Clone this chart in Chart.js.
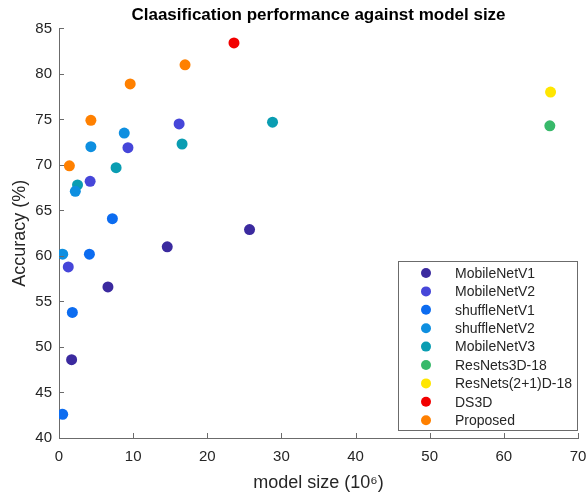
<!DOCTYPE html>
<html>
<head>
<meta charset="utf-8">
<script src="https://cdn.jsdelivr.net/npm/chart.js@4.4.0/dist/chart.umd.min.js"></script>
<style>
  html, body { margin: 0; padding: 0; background: #fff; }
  #wrap { width: 588px; height: 494px; }
</style>
</head>
<body>
<div id="wrap"><canvas id="sizeChart" width="588" height="494"></canvas></div>
<script>
// model families, in legend order
const models = [
    "MobileNetV1",
    "MobileNetV2",
    "shuffleNetV1",
    "shuffleNetV2",
    "MobileNetV3",
    "ResNets3D-18",
    "ResNets(2+1)D-18",
    "DS3D",
    "Proposed"
]

const colors = [
    "#3b2a9f",
    "#4646d9",
    "#0c6cf0",
    "#0e8fe0",
    "#0a9db2",
    "#38b96a",
    "#ffe600",
    "#f20000",
    "#ff8000"
]

// model size (millions of params) per family
const sizes = [
    [1.7, 6.6, 14.6, 25.7],
    [1.25, 4.2, 9.3, 16.2],
    [0.5, 1.8, 4.1, 7.2],
    [0.5, 2.2, 4.3, 8.8],
    [2.5, 7.7, 16.6, 28.8],
    [66.2],
    [66.3],
    [23.6],
    [1.4, 4.3, 9.6, 17.0]
]

// accuracy (%) per family
const accuracy = [
    [48.6, 56.6, 61.0, 62.9],
    [58.8, 68.2, 71.9, 74.5],
    [42.6, 53.8, 60.2, 64.1],
    [60.2, 67.1, 72.0, 73.5],
    [67.8, 69.7, 72.3, 74.7],
    [74.3],
    [78.0],
    [83.4],
    [69.9, 74.9, 78.9, 81.0]
]

const xTicks = [0, 10, 20, 30, 40, 50, 60, 70]
const yTicks = [40, 45, 50, 55, 60, 65, 70, 75, 80, 85]

const axisColor = "#6b6b6b"
const textColor = "#262626"
const fontFamily = "'Liberation Sans', Arial, sans-serif"

const datasets = models.map((name, i) => ({
    label: name,
    data: sizes[i].map((x, j) => ({ x: x, y: accuracy[i][j] })),
    backgroundColor: colors[i],
    borderWidth: 0,
    pointRadius: 5.5,
    pointHoverRadius: 5.5
}))

// ticks pointing into the plot, like matlab
const innerTicks = {
    id: "innerTicks",
    afterDraw(chart) {
        const c = chart.ctx
        const xs = chart.scales.x
        const ys = chart.scales.y
        const area = chart.chartArea
        c.save()
        c.strokeStyle = axisColor
        c.lineWidth = 1
        c.beginPath()
        xTicks.forEach(v => {
            const px = Math.round(xs.getPixelForValue(v)) + 0.5
            c.moveTo(px, area.bottom)
            c.lineTo(px, area.bottom - 5)
        })
        yTicks.forEach(v => {
            const py = Math.round(ys.getPixelForValue(v)) + 0.5
            c.moveTo(area.left, py)
            c.lineTo(area.left + 5, py)
        })
        c.stroke()
        c.restore()
    }
}

// legend box in the lower right corner of the axes
const boxLegend = {
    id: "boxLegend",
    afterDraw(chart) {
        const c = chart.ctx
        const left = 398.5, top = 261.5, w = 179, h = 169
        c.save()
        c.fillStyle = "#fff"
        c.fillRect(left, top, w, h)
        c.strokeStyle = axisColor
        c.lineWidth = 1
        c.strokeRect(left, top, w, h)
        c.font = "14px " + fontFamily
        c.textBaseline = "middle"
        c.textAlign = "left"
        models.forEach((name, i) => {
            const y = 273 + i * 18.4
            c.fillStyle = colors[i]
            c.beginPath()
            c.arc(426, y, 5, 0, Math.PI * 2)
            c.fill()
            c.fillStyle = textColor
            c.fillText(name, 455, y + 1)
        })
        c.restore()
    }
}

const config = {
    type: "scatter",
    data: { datasets: datasets },
    options: {
        responsive: false,
        animation: false,
        layout: {
            padding: { left: 0, right: 10, top: 0, bottom: 0 }
        },
        scales: {
            x: {
                type: "linear",
                min: 0,
                max: 70,
                afterBuildTicks: s => { s.ticks = xTicks.map(v => ({ value: v })) },
                afterFit: s => {
                    s.height = 56
                    s.paddingLeft = 0
                    s.paddingRight = 0
                },
                grid: { display: false, drawTicks: false },
                border: { display: true, color: axisColor, width: 1 },
                ticks: {
                    color: textColor,
                    font: { family: fontFamily, size: 15 },
                    padding: 10
                },
                title: {
                    display: true,
                    text: "model size (10\u2076)",
                    color: textColor,
                    font: { family: fontFamily, size: 18 },
                    padding: { top: 2, bottom: 0 }
                }
            },
            y: {
                type: "linear",
                min: 40,
                max: 85,
                afterBuildTicks: s => { s.ticks = yTicks.map(v => ({ value: v })) },
                afterFit: s => { s.width = 59 },
                grid: { display: false, drawTicks: false },
                border: { display: true, color: axisColor, width: 1 },
                ticks: {
                    color: textColor,
                    font: { family: fontFamily, size: 15 },
                    padding: 7
                },
                title: {
                    display: true,
                    text: "Accuracy (%)",
                    color: textColor,
                    font: { family: fontFamily, size: 18 },
                    padding: { top: 9, bottom: 0 }
                }
            }
        },
        plugins: {
            legend: { display: false },
            tooltip: { enabled: false },
            title: {
                display: true,
                fullSize: false,
                text: "Claasification performance against model size",
                color: "#000",
                font: { family: fontFamily, size: 17, weight: "bold" },
                padding: { top: 5, bottom: 3 }
            }
        }
    },
    plugins: [innerTicks, boxLegend]
}

const sizeChart = new Chart(document.getElementById("sizeChart"), config)
</script>
</body>
</html>
